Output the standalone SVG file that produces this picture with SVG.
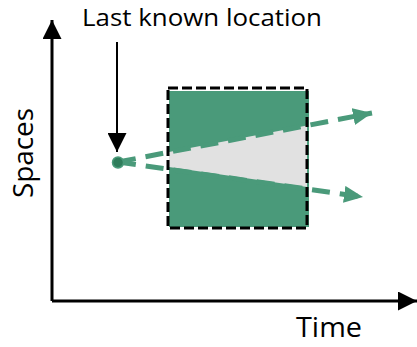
<svg xmlns="http://www.w3.org/2000/svg" width="417" height="347" viewBox="0 0 417 347">
  <style>
    .label { font-family: "Open Sans", "Liberation Sans", sans-serif; fill: #000; }
    .axis { stroke: #000; stroke-width: 3; fill: none; }
    .path { stroke: #4a9a7a; stroke-width: 5; fill: none; stroke-dasharray: 18 10; }
  </style>
  <defs>
    <marker id="blackHead" viewBox="0 0 10 10" refX="10" refY="5" markerWidth="19" markerHeight="19" markerUnits="userSpaceOnUse" orient="auto">
      <path d="M0,0 L10,5 L0,10 Z" fill="#000"/>
    </marker>
    <marker id="greenHead" viewBox="0 0 10 10" refX="10" refY="5" markerWidth="19" markerHeight="17" markerUnits="userSpaceOnUse" orient="auto" preserveAspectRatio="none">
      <path d="M0,0 L10,5 L0,10 Z" fill="#4a9a7a"/>
    </marker>
  </defs>

  <!-- axes -->
  <g id="axes">
    <path class="axis" d="M52,301 L52,20" marker-end="url(#blackHead)"/>
    <path class="axis" d="M52,301 L417,301" marker-end="url(#blackHead)"/>
    <text class="label" x="296" y="337" font-size="28" textLength="66" lengthAdjust="spacingAndGlyphs">Time</text>
    <text class="label" transform="translate(33,153) rotate(-90)" text-anchor="middle" font-size="28" textLength="90" lengthAdjust="spacingAndGlyphs">Spaces</text>
  </g>

  <!-- search window -->
  <g id="window">
    <rect x="169" y="91" width="140" height="136" fill="#4a9a7a"/>
    <polygon points="169,152 307,125.5 307,187 169,167" fill="#e1e1e1"/>
    <rect x="168" y="88" width="139" height="140" fill="none" stroke="#000" stroke-width="3" stroke-dasharray="10 4"/>
  </g>

  <!-- last known location -->
  <g id="last-known">
    <text class="label" x="82" y="26" font-size="24" textLength="240" lengthAdjust="spacingAndGlyphs">Last known location</text>
  </g>

  <g id="connectors">
    <path d="M117,42 L117,152" stroke="#000" stroke-width="2" fill="none" marker-end="url(#blackHead)"/>
    <path class="path" d="M118,162 L372,113" marker-end="url(#greenHead)"/>
    <path class="path" d="M118,162 L363,197" marker-end="url(#greenHead)"/>
  </g>

  <g id="origin">
    <circle cx="118" cy="162.5" r="5.5" fill="#2f7d5b" stroke="#4a9a7a" stroke-width="1.5"/>
  </g>
</svg>
